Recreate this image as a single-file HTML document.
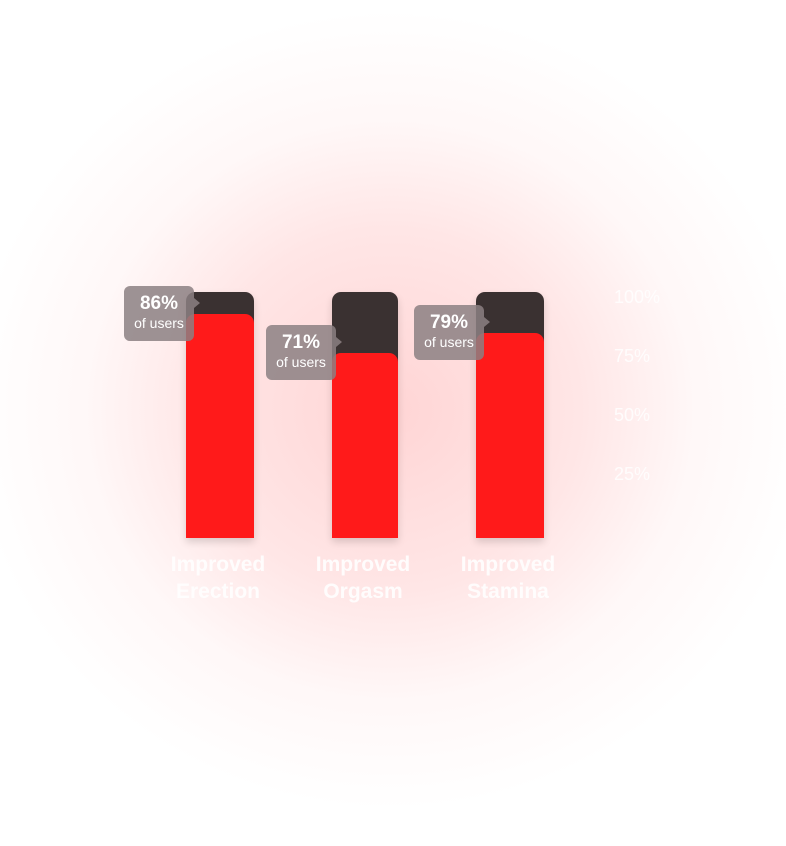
<!DOCTYPE html>
<html><head><meta charset="utf-8"><style>
html,body{margin:0;padding:0}
body{width:786px;height:846px;overflow:hidden;position:relative;font-family:"Liberation Sans",sans-serif;
background:radial-gradient(ellipse 420px 400px at 390px 410px,rgba(255,190,190,0.65) 0%,rgba(255,205,205,0.5) 45%,rgba(255,230,230,0.3) 72%,#fff 100%);}
.bar-bg{position:absolute;background:#3a3131;border-radius:9px 9px 0 0;box-shadow:0 4px 8px rgba(0,0,0,0.15)}
.bar-fg{position:absolute;background:#ff1a1a;border-radius:9px 9px 0 0}
.tip{position:absolute;width:70px;height:55px;background:rgba(140,128,130,0.85);border-radius:6px;color:#fff;text-align:center}
.tip:after{content:"";position:absolute;right:-6px;top:12px;border-left:6px solid rgba(140,128,130,0.85);border-top:5px solid transparent;border-bottom:5px solid transparent}
.tip b{display:block;font-size:19px;margin-top:8px;line-height:20px}
.tip span{display:block;font-size:14px;line-height:18px}
.cat{position:absolute;width:140px;text-align:center;color:#fff;font-weight:bold;font-size:21px;line-height:27px;opacity:0.9}
.tick{position:absolute;left:614px;color:#fff;font-size:18px;opacity:0.85}
</style></head><body>
<div id="root"></div>
<script>
const categories=["Improved Erection","Improved Orgasm","Improved Stamina"];
const values=[86,71,79];
const tickValues=[100,75,50,25];
const tickLabels=["100%","75%","50%","25%"];
const root=document.getElementById('root');
const base=538, pxPer=2.6;
const y=v=>base-v*pxPer;
const tickY=v=>297+(100-v)*2.36;
const lefts=[186,332,476];
const tipOffsets=[62,66,62];
categories.forEach((c,i)=>{
  const L=lefts[i], W=i==1?66:68;
  const bg=document.createElement('div');bg.className='bar-bg';
  
  
  bg.style.cssText=`left:${L}px;top:292px;width:${W}px;height:${base-292}px`;root.appendChild(bg);
  const fg=document.createElement('div');fg.className='bar-fg';
  
  
  const t=y(values[i]);
  fg.style.cssText=`left:${L}px;top:${t}px;width:${W}px;height:${base-t}px`;root.appendChild(fg);
  const tip=document.createElement('div');tip.className='tip';
  
  
  tip.style.left=(L-tipOffsets[i])+'px';tip.style.top=(t-28)+'px';
  tip.innerHTML=`<b>${values[i]}%</b><span>of users</span>`;root.appendChild(tip);
  const lab=document.createElement('div');lab.className='cat';
  
  
  const w=c.split(' ');
  lab.style.left=(L+W/2-72)+'px';lab.style.top='551px';
  lab.innerHTML=w[0]+'<br>'+w[1];root.appendChild(lab);
});
tickValues.forEach((v,i)=>{
  const d=document.createElement('div');d.className='tick';
  
  
  d.style.top=(tickY(v)-10)+'px';d.textContent=tickLabels[i];root.appendChild(d);
});
</script>
</body></html>
